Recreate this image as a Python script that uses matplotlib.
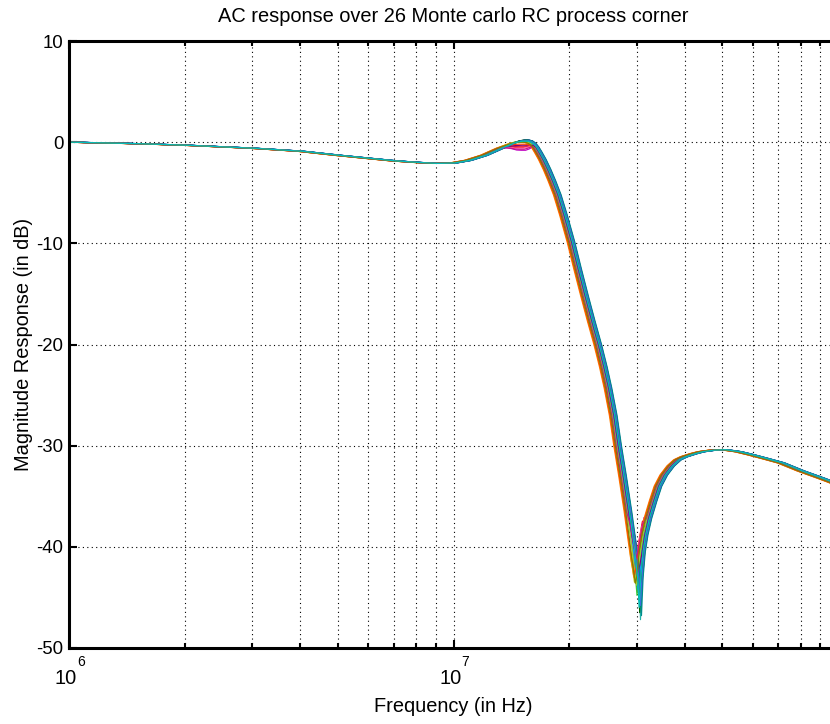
import numpy as np
import matplotlib
matplotlib.use("Agg")
import matplotlib.pyplot as plt
from matplotlib.ticker import LogLocator, NullFormatter, FixedLocator, FixedFormatter
from matplotlib.transforms import blended_transform_factory, ScaledTranslation

plt.rcParams['font.family'] = ['Liberation Sans', 'DejaVu Sans']

# Median (nominal) AC response
base_freq = [9e5, 1e6, 1.5e6, 2e6, 3e6, 4e6, 5e6, 6e6, 7e6, 8e6, 9e6, 1e7,
             1.09e7, 1.2e7, 1.32e7, 1.38e7, 1.42e7, 1.46e7, 1.5e7, 1.54e7, 1.57e7,
             1.6e7, 1.63e7, 1.66e7, 1.7e7, 1.75e7, 1.8e7, 1.86e7, 1.93e7, 2.02e7,
             2.1e7, 2.19e7, 2.28e7, 2.37e7, 2.45e7, 2.52e7, 2.6e7, 2.67e7, 2.75e7,
             2.84e7, 2.9e7, 2.95e7, 2.99e7, 3.01e7, 3.04e7, 3.08e7, 3.13e7, 3.2e7,
             3.3e7, 3.4e7, 3.52e7, 3.67e7, 3.82e7, 3.97e7, 4.2e7, 4.4e7, 4.7e7,
             5.05e7, 5.5e7, 5.93e7, 6.5e7, 7.1e7, 8e7, 9e7, 9.6e7, 1.15e8]
base_db = [0.0, 0.0, -0.15, -0.3, -0.6, -0.9, -1.3, -1.6, -1.85, -2.0, -2.1, -2.05,
           -1.8, -1.3, -0.6, -0.3, -0.1, 0.05, 0.12, 0.12, 0.05,
           -0.15, -0.5, -1.0, -1.7, -2.7, -3.8, -5.2, -7.2, -9.9,
           -12.5, -15.2, -17.7, -20.0, -22.2, -24.3, -27.0, -30.0, -33.0,
           -36.5, -39.0, -41.3, -43.5, -45.0, -43.0, -40.5, -38.8, -37.2,
           -35.5, -34.0, -32.9, -32.0, -31.4, -31.1, -30.8, -30.6, -30.45,
           -30.4, -30.6, -30.9, -31.3, -31.7, -32.5, -33.2, -33.6, -34.8]

# Per Monte-carlo run: colour, frequency scale, notch depth (dB), peak level (dB)
run_colors = ['#0000FF', '#008000', '#FF0000', '#0000CD', '#BF00BF', '#BFBF00',
              '#404040', '#FF8000', '#00008B', '#20B2AA', '#DC143C', '#32CD32',
              '#FF69B4', '#8A2BE2', '#006400', '#DAA520', '#1E90FF', '#9ACD32',
              '#800080', '#008B8B', '#FF4500', '#4169E1', '#2E8B57', '#C71585',
              '#808000', '#00BFBF']
run_fscale = [1.014, 1.005, 0.990, 1.020, 1.000, 0.982, 1.000, 0.978, 1.021, 1.018,
              0.994, 0.997, 0.987, 1.008, 1.013, 0.985, 1.003, 0.995, 1.005, 1.024,
              0.982, 1.017, 1.010, 0.992, 0.987, 1.010]
run_notch = [-45.2, -44.0, -41.0, -46.2, -40.6, -43.5, -44.5, -43.0, -45.5, -47.2,
             -42.0, -44.8, -41.5, -45.0, -46.5, -43.2, -44.2, -43.8, -42.5, -46.8,
             -42.8, -45.8, -45.3, -41.2, -43.6, -46.0]
run_peak = [0.15, 0.1, -0.5, 0.2, -0.8, 0.05, 0.1, 0.0, 0.2, 0.15,
            -0.4, 0.1, -0.6, 0.1, 0.2, 0.0, 0.1, 0.05, -0.3, 0.2,
            -0.2, 0.15, 0.1, -0.7, 0.0, 0.1]

yticks = [-50, -40, -30, -20, -10, 0, 10]
xticks = [1e6, 1e7, 1e8]
xtick_exponents = ['6', '7']

fig = plt.figure(figsize=(8.3, 7.24), dpi=100)
ax = fig.add_axes([69 / 830, 76 / 724, 769 / 830, 607 / 724])

bf = np.array(base_freq)
bd = np.array(base_db)
i_notch = base_freq.index(3.01e7)
i_peak = [base_freq.index(v) for v in (1.38e7, 1.42e7, 1.46e7, 1.5e7, 1.54e7, 1.57e7, 1.6e7)]
w_peak = [0.3, 0.6, 0.9, 1.0, 1.0, 0.8, 0.4]
notch_rise = [0.8, 2.0, 3.5]

for c, k, nd, pk in zip(run_colors, run_fscale, run_notch, run_peak):
    d = bd.copy()
    for j, w in zip(i_peak, w_peak):
        d[j] += w * (pk - 0.12)
    d[i_notch] = nd
    for off, r in enumerate(notch_rise, start=1):
        for j in (i_notch - off, i_notch + off):
            d[j] = max(d[j], nd + r)
    ax.semilogx(bf * k, d, color=c, lw=0.85)

ax.set_xlim(1e6, 1e8)
ax.set_ylim(-50, 10)

ax.xaxis.set_major_locator(FixedLocator(xticks))
ax.xaxis.set_major_formatter(FixedFormatter(['', '', '']))
ax.xaxis.set_minor_locator(LogLocator(base=10, subs=np.arange(2, 10), numticks=20))
ax.xaxis.set_minor_formatter(NullFormatter())
ax.set_yticks(yticks)
ax.set_yticklabels([str(v) for v in yticks])

grid_style = dict(color='black', linestyle=(0, (1, 3)), linewidth=0.8)
ax.grid(True, which='major', axis='both', **grid_style)
ax.grid(True, which='minor', axis='x', **grid_style)

for s in ax.spines.values():
    s.set_linewidth(2.2)
ax.tick_params(which='both', direction='in', top=True, right=True, width=1.5,
               labelsize=13.4)
ax.tick_params(which='major', length=6)
ax.tick_params(which='minor', length=3.5)
ax.tick_params(axis='y', pad=4)

# MATLAB-style "10" with raised exponent tick labels
trans = blended_transform_factory(ax.transData, fig.transFigure)
for xv, ex in zip(xticks, xtick_exponents):
    ax.text(xv, (724 - 684) / 724, '10', fontsize=14.4, ha='center', va='baseline',
            transform=trans + ScaledTranslation(-3 / 100, 0, fig.dpi_scale_trans),
            clip_on=False)
    ax.text(xv, (724 - 666) / 724, ex, fontsize=10, ha='left', va='baseline',
            transform=trans + ScaledTranslation(8 / 100, 0, fig.dpi_scale_trans),
            clip_on=False)

ax.set_title('AC response over 26 Monte carlo RC process corner', fontsize=14.4, pad=14)
ax.set_xlabel('Frequency (in Hz)', fontsize=14.4)
ax.set_ylabel('Magnitude Response (in dB)', fontsize=14.4)
ax.xaxis.set_label_coords(0.5, -0.081)
ax.yaxis.set_label_coords(-0.047, 0.5)

fig.savefig('out.png', dpi=100)
